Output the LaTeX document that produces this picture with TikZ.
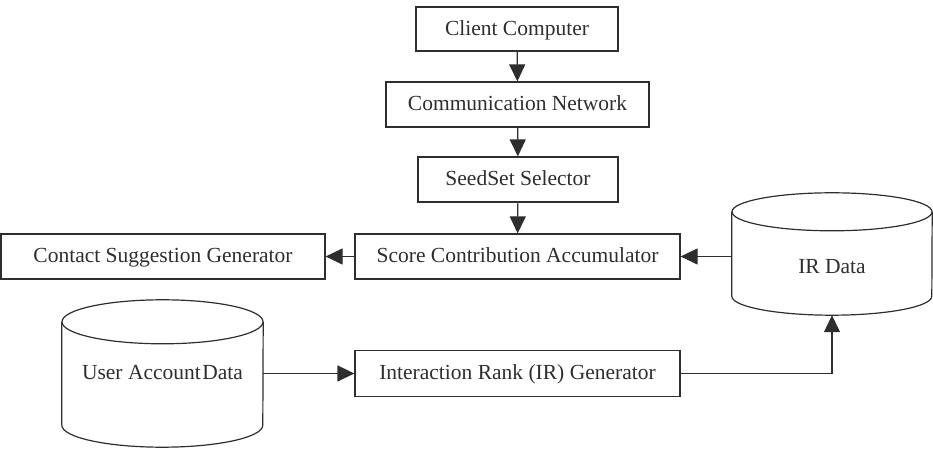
\documentclass[tikz,border=0pt]{standalone}
\usepackage{fontspec}
\setmainfont{Liberation Serif}
\usetikzlibrary{arrows.meta,calc}
\definecolor{ink}{HTML}{2E2E2E}
\tikzset{
  box/.style={draw=ink, line width=1.2pt, rectangle, inner sep=0pt, text=ink, font=\fontsize{21.5}{24}\selectfont, text height=14.5pt, text depth=1.5pt},
  dbbody/.style={rectangle, inner sep=0pt, text=ink, font=\fontsize{21.5}{24}\selectfont, text height=14.5pt, text depth=1.5pt},
  conn/.style={draw=ink, line width=1.2pt, -{Triangle[length=17pt,width=16pt]}},
  outline/.style={draw=ink, line width=1.2pt}
}
\begin{document}
\begin{tikzpicture}[x=1pt,y=1pt]
\useasboundingbox (0,0) rectangle (933,454);
\node[box, minimum width=202pt, minimum height=44pt] (cc) at (517,425) {Client Computer};
\node[box, minimum width=263pt, minimum height=45pt] (cn) at (517.5,349.5) {Communication Network};
\node[box, minimum width=200pt, minimum height=45pt] (ss) at (518,274.5) {SeedSet Selector};
\node[box, minimum width=325pt, minimum height=45pt] (sca) at (517.5,197.5) {Score Contribution Accumulator};
\node[box, minimum width=324pt, minimum height=45pt] (csg) at (163,197.5) {Contact Suggestion Generator};
\node[box, minimum width=325pt, minimum height=46pt] (irg) at (517.5,80.5) {Interaction Rank (IR) Generator};
% IR Data cylinder
\node[dbbody, minimum width=200pt, minimum height=122pt] (ird) at (832,200) {\raisebox{-13pt}[0pt][0pt]{IR Data}};
\draw[outline] ([yshift=-19pt]ird.north) ellipse [x radius=100pt, y radius=19pt];
\draw[outline] ([yshift=-19pt]ird.north west) -- ([yshift=19pt]ird.south west)
  arc[start angle=180, end angle=360, x radius=100pt, y radius=19pt]
  -- ([yshift=-19pt]ird.north east);
% User Account Data cylinder
\node[dbbody, minimum width=201pt, minimum height=147pt] (uad) at (162.5,80.5) {User Account\hspace{1.5pt}Data};
\draw[outline] ([yshift=-22pt]uad.north) ellipse [x radius=100.5pt, y radius=22pt];
\draw[outline] ([yshift=-22pt]uad.north west) -- ([yshift=22pt]uad.south west)
  arc[start angle=180, end angle=360, x radius=100.5pt, y radius=22pt]
  -- ([yshift=-22pt]uad.north east);
% connectors
\draw[conn] (cc) -- (cn);
\draw[conn] (cn) -- (ss);
\draw[conn] (ss) -- (sca);
\draw[conn] (sca) -- (csg);
\draw[conn] (sca -| ird.west) -- (sca.east);
\draw[conn] (uad.east |- irg) -- (irg.west);
\draw[conn] (irg.east) -| (ird.south);
\end{tikzpicture}
\end{document}
